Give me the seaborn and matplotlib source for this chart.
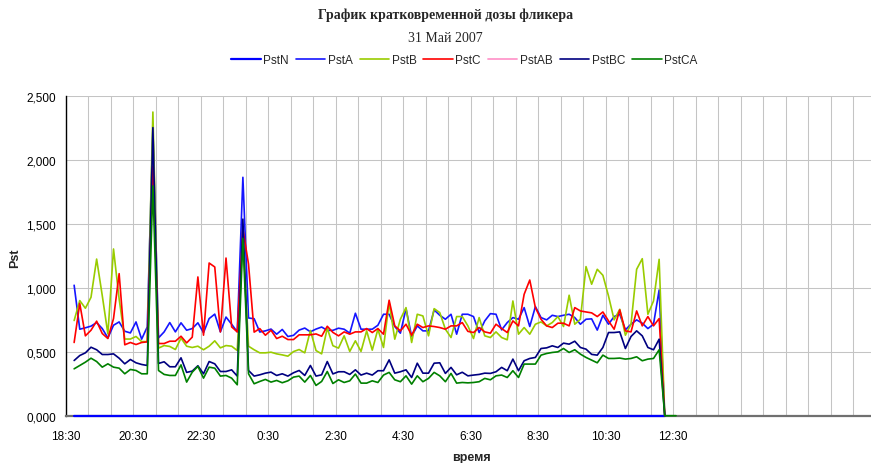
import numpy as np
import matplotlib
matplotlib.use("Agg")
import matplotlib.pyplot as plt
import seaborn as sns

# Pst values, one point every 10 minutes from 18:40
pst_a = [1.021, 0.677, 0.688, 0.701, 0.729, 0.682, 0.609, 0.708, 0.734, 0.661, 0.648, 0.734, 0.599, 0.695, 2.255, 0.609, 0.656, 0.729, 0.656, 0.727, 0.669, 0.682, 0.727,
         0.650, 0.760, 0.795, 0.656, 0.772, 0.716, 0.656, 1.866, 0.765, 0.759, 0.655, 0.664, 0.678, 0.638, 0.675, 0.620, 0.629, 0.670, 0.686, 0.657, 0.678, 0.694, 0.668, 0.668,
         0.685, 0.677, 0.646, 0.802, 0.677, 0.677, 0.677, 0.708, 0.794, 0.794, 0.698, 0.646, 0.838, 0.620, 0.703, 0.664, 0.664, 0.828, 0.786, 0.755, 0.794, 0.638, 0.794, 0.794,
         0.776, 0.651, 0.742, 0.799, 0.794, 0.672, 0.729, 0.768, 0.755, 0.846, 0.698, 0.854, 0.768, 0.750, 0.786, 0.776, 0.786, 0.794, 0.768, 0.716, 0.755, 0.758, 0.670,
         0.786, 0.716, 0.776, 0.794, 0.672, 0.716, 0.750, 0.724, 0.682, 0.716, 0.984, 0.0]
pst_b = [0.745, 0.901, 0.841, 0.927, 1.226, 0.940, 0.640, 1.305, 0.914, 0.600, 0.600, 0.620, 0.580, 0.580, 2.377, 0.529, 0.549, 0.542, 0.518, 0.607, 0.544, 0.534, 0.544,
         0.516, 0.544, 0.586, 0.531, 0.549, 0.544, 0.510, 1.420, 0.544, 0.516, 0.492, 0.492, 0.497, 0.484, 0.476, 0.466, 0.502, 0.518, 0.492, 0.667, 0.510, 0.484, 0.685, 0.548,
         0.529, 0.625, 0.503, 0.586, 0.503, 0.664, 0.513, 0.677, 0.534, 0.885, 0.599, 0.755, 0.846, 0.573, 0.794, 0.781, 0.625, 0.838, 0.807, 0.677, 0.612, 0.776, 0.776, 0.703,
         0.604, 0.768, 0.625, 0.612, 0.656, 0.612, 0.594, 0.898, 0.638, 0.690, 0.638, 0.716, 0.734, 0.703, 0.729, 0.776, 0.698, 0.943, 0.716, 0.755, 1.167, 1.029, 1.146,
         1.099, 0.937, 0.750, 0.833, 0.630, 0.716, 1.146, 1.229, 0.794, 0.898, 1.224, 0.0]
pst_c = [0.573, 0.878, 0.625, 0.669, 0.740, 0.643, 0.604, 0.760, 1.112, 0.555, 0.573, 0.557, 0.573, 0.578, 1.950, 0.565, 0.565, 0.583, 0.583, 0.622, 0.570, 0.615, 1.086,
         0.630, 1.195, 1.164, 0.656, 1.234, 0.695, 0.656, 1.461, 1.187, 0.654, 0.682, 0.630, 0.669, 0.604, 0.622, 0.596, 0.596, 0.633, 0.633, 0.633, 0.640, 0.622, 0.700, 0.652,
         0.625, 0.656, 0.638, 0.656, 0.656, 0.682, 0.651, 0.682, 0.638, 0.904, 0.703, 0.664, 0.716, 0.630, 0.716, 0.690, 0.703, 0.698, 0.690, 0.677, 0.703, 0.703, 0.729, 0.660,
         0.651, 0.690, 0.656, 0.646, 0.716, 0.682, 0.651, 0.742, 0.703, 0.950, 1.062, 0.846, 0.755, 0.703, 0.690, 0.724, 0.724, 0.703, 0.846, 0.820, 0.812, 0.805, 0.776,
         0.812, 0.742, 0.677, 0.828, 0.664, 0.656, 0.820, 0.703, 0.776, 0.703, 0.760, 0.0]
pst_bc = [0.432, 0.471, 0.492, 0.536, 0.516, 0.479, 0.479, 0.484, 0.450, 0.406, 0.440, 0.414, 0.401, 0.393, 2.255, 0.409, 0.422, 0.383, 0.383, 0.453, 0.339, 0.349, 0.391,
          0.328, 0.424, 0.406, 0.346, 0.346, 0.359, 0.310, 1.539, 0.354, 0.310, 0.320, 0.333, 0.341, 0.315, 0.328, 0.310, 0.336, 0.354, 0.315, 0.393, 0.310, 0.320, 0.424, 0.327,
          0.344, 0.344, 0.323, 0.359, 0.318, 0.333, 0.318, 0.352, 0.352, 0.437, 0.333, 0.344, 0.359, 0.299, 0.411, 0.333, 0.333, 0.411, 0.414, 0.331, 0.378, 0.320, 0.340, 0.312,
          0.318, 0.323, 0.333, 0.331, 0.344, 0.378, 0.352, 0.443, 0.352, 0.430, 0.448, 0.456, 0.526, 0.531, 0.547, 0.534, 0.568, 0.560, 0.583, 0.534, 0.521, 0.480, 0.474,
          0.534, 0.651, 0.651, 0.656, 0.526, 0.620, 0.664, 0.625, 0.534, 0.516, 0.599, 0.0]
pst_ca = [0.367, 0.393, 0.419, 0.450, 0.424, 0.380, 0.406, 0.380, 0.372, 0.328, 0.362, 0.354, 0.328, 0.328, 1.799, 0.354, 0.323, 0.315, 0.315, 0.398, 0.263, 0.341, 0.386,
          0.294, 0.380, 0.372, 0.310, 0.315, 0.294, 0.242, 1.388, 0.328, 0.250, 0.268, 0.284, 0.263, 0.276, 0.258, 0.273, 0.302, 0.310, 0.263, 0.315, 0.237, 0.268, 0.346, 0.252,
          0.281, 0.260, 0.273, 0.326, 0.255, 0.255, 0.273, 0.260, 0.318, 0.339, 0.281, 0.266, 0.312, 0.247, 0.312, 0.266, 0.292, 0.339, 0.312, 0.266, 0.331, 0.255, 0.260, 0.257,
          0.260, 0.266, 0.292, 0.281, 0.312, 0.318, 0.299, 0.352, 0.299, 0.404, 0.404, 0.404, 0.474, 0.487, 0.495, 0.500, 0.526, 0.495, 0.516, 0.482, 0.456, 0.435, 0.414,
          0.474, 0.448, 0.448, 0.451, 0.443, 0.448, 0.461, 0.430, 0.443, 0.448, 0.516, 0.0, 0.0, 0.0]
pst_n = [0.0] * 106
pst_ab = []  # no data for this series

hour_labels = ['18:30', '20:30', '22:30', '0:30', '2:30', '4:30', '6:30', '8:30', '10:30', '12:30']

series = [
    ('PstN', pst_n, '#0000FF'),
    ('PstA', pst_a, '#1515FF'),
    ('PstB', pst_b, '#99CC00'),
    ('PstC', pst_c, '#FF0000'),
    ('PstAB', pst_ab, '#FF99CC'),
    ('PstBC', pst_bc, '#000080'),
    ('PstCA', pst_ca, '#008000'),
]

sns.set_style('white')
plt.rcParams['font.family'] = ['Liberation Sans', 'DejaVu Sans']

fig = plt.figure(figsize=(8.71, 4.64), dpi=100)
ax = fig.add_axes([65.7 / 871, 47.3 / 464, (871 - 65.7) / 871, 319.4 / 464])

for name, vals, col in series:
    if len(vals) == 0:
        ax.plot([], [], color=col, lw=1.3, label=name)
        continue
    # minutes after 18:30, points sit in the middle of each 10-minute category
    t = 15 + 10 * np.arange(len(vals))
    sns.lineplot(x=t, y=vals, color=col, lw=1.6 if name == 'PstN' else 1.2,
                 label=name, ax=ax, clip_on=False, zorder=3)

handles, labels = ax.get_legend_handles_labels()
ax.get_legend().remove()

ax.set_xlim(0, (871 - 65.7) / 0.5625)
ax.set_ylim(0, 2.5)
ax.set_yticks(np.arange(0, 2.51, 0.5))
ax.set_yticklabels([f'{v:.3f}'.replace('.', ',') for v in np.arange(0, 2.51, 0.5)])
xt = np.arange(0, 1401, 40)
ax.set_xticks(xt)
ax.set_xticklabels([hour_labels[k // 3] if k % 3 == 0 and k // 3 < len(hour_labels) else ''
                    for k in range(len(xt))])
ax.grid(True, color='#c4c4c4', lw=0.75)
ax.set_axisbelow(True)
for s in ['top', 'right']:
    ax.spines[s].set_visible(False)
ax.spines['left'].set_color('black')
ax.spines['left'].set_linewidth(1.0)
ax.spines['bottom'].set_color('#707070')
ax.spines['bottom'].set_linewidth(1.6)
ax.tick_params(axis='both', direction='out', length=4, width=0.8, color='black',
               labelsize=8.5, labelcolor='black', pad=3)
ax.tick_params(axis='x', pad=6)
ax.set_xlabel('')
ax.set_ylabel('')

fig.text(0.5115, 1 - 15 / 464, 'График кратковременной дозы фликера', ha='center', va='center',
         fontsize=10, fontweight='bold', family=['Liberation Serif', 'DejaVu Serif'])
fig.text(0.511, 1 - 38 / 464, '31 Май 2007', ha='center', va='center',
         fontsize=10, family=['Liberation Serif', 'DejaVu Serif'])
fig.legend(handles, labels, loc='center', bbox_to_anchor=(0.533, 1 - 61 / 464), ncol=7,
           frameon=False, fontsize=8.5, handlelength=2.5, handletextpad=0.2, columnspacing=0.6)
fig.text(15 / 871, 1 - 258 / 464, 'Pst', rotation=90, ha='center', va='center',
         fontsize=9, fontweight='bold')
fig.text(471 / 871, 1 - 458 / 464, 'время', ha='center', va='center',
         fontsize=9, fontweight='bold')

fig.savefig('out.png', dpi=100)
